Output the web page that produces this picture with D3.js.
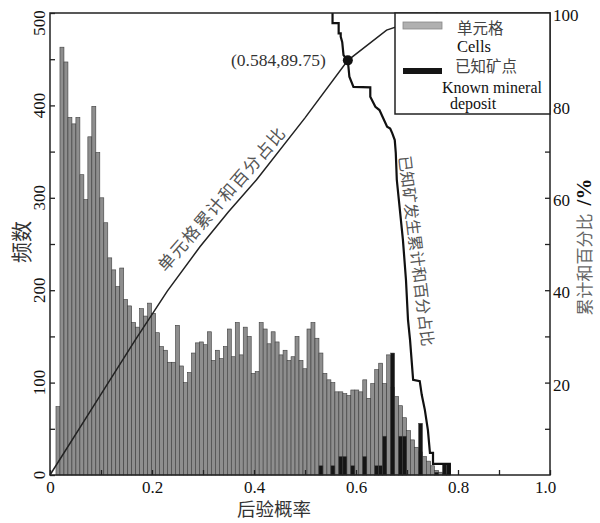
<!DOCTYPE html>
<html>
<head>
<meta charset="utf-8">
<script src="https://cdn.jsdelivr.net/npm/d3@7"></script>
<style>
  body { margin: 0; background: #fff; }
  svg { display: block; }
  .serif { font-family: "Liberation Serif", "Times New Roman", Times, "DejaVu Serif", serif; }
  .cjk { font-family: "Noto Sans CJK SC", "Noto Sans CJK JP", sans-serif; }
</style>
</head>
<body>
<svg id="chart" width="600" height="523"></svg>
<script>
// Histogram bins: bin k is centred on k * binWidth
const binWidth = 1 / 128;

// Number of cells per posterior-probability bin (bins 0..100)
const cellCounts = [
  0, 0, 74, 463, 447, 387, 380, 387, 325, 298,
  366, 399, 349, 300, 273, 235, 222, 204, 224, 190,
  183, 165, 160, 180, 172, 186, 175, 154, 139, 135,
  122, 122, 162, 118, 100, 111, 132, 143, 144, 141,
  155, 124, 135, 126, 139, 158, 128, 165, 130, 160,
  150, 110, 112, 165, 158, 142, 155, 144, 130, 135,
  124, 128, 150, 124, 115, 158, 165, 148, 132, 110,
  103, 100, 90, 90, 88, 86, 92, 92, 90, 103,
  83, 99, 114, 121, 99, 130, 95, 85, 75, 62,
  48, 38, 30, 25, 20, 15, 10, 5, 3, 2,
  1
];

// Known mineral deposits: bin index and bar height
const depositBins   = [68, 71, 73, 74, 76, 79, 82, 83, 84, 86, 88, 89, 93, 97, 99, 100];
const depositCounts = [10, 10, 20, 20, 10, 20, 10, 10, 42, 132, 42, 42, 56, 3, 12, 12];

// Cumulative share of cells (%), by posterior probability
const cellCumulative = [
  [0, 0], [0.08, 14], [0.167, 29.2], [0.23, 39.8], [0.294, 49.4],
  [0.35, 57], [0.405, 63.9], [0.5, 77.3], [0.584, 89.75], [0.66, 96.3], [0.76, 100]
];

// Cumulative share of known deposits (%), stepping down with probability
const depositCumulative = [
  [0.554, 100], [0.554, 97.8], [0.566, 97.8], [0.566, 95.6], [0.570, 95.6],
  [0.570, 94.9], [0.573, 93.7], [0.5755, 90.9], [0.578, 90.5], [0.584, 89.75],
  [0.587, 86.2], [0.595, 84.0], [0.628, 83.9], [0.628, 81.9], [0.638, 79.7],
  [0.646, 79.0], [0.661, 75.4], [0.667, 75.0], [0.671, 74.0], [0.676, 72.5],
  [0.678, 69.7], [0.680, 63.9], [0.692, 50.9], [0.698, 42.2], [0.702, 33.5],
  [0.706, 29.2], [0.712, 20.6], [0.725, 20.3], [0.729, 17.3], [0.735, 14.1],
  [0.741, 9.7], [0.745, 4.8], [0.751, 4.8], [0.751, 2.4], [0.784, 2.4], [0.784, 0]
];

// Intersection of the two cumulative curves
const crossPoint = [0.584, 89.75];

// Axis ticks
const xTickValues = [0, 0.1, 0.2, 0.3, 0.4, 0.5, 0.6, 0.7, 0.8, 0.9, 1.0];
const xTickLabels = ["0", "", "0.2", "", "0.4", "", "0.6", "", "0.8", "", "1.0"];
const yLeftTicks  = [0, 50, 100, 150, 200, 250, 300, 350, 400, 450, 500];
const yLeftLabels = ["0", "", "100", "", "200", "", "300", "", "400", "", "500"];
const yRightTicks  = [10, 20, 30, 40, 50, 60, 70, 80, 90, 100];
const yRightLabels = ["", "20", "", "40", "", "60", "", "80", "", "100"];

// ---- layout ----
const L = 50, R = 550, T = 13, B = 475;
const ink = "#222";

const svg = d3.select("#chart");

const x = d3.scaleLinear().domain([0, 0.8, 0.9, 1.0]).range([L, 458, 499, R]);
const yL = d3.scaleLinear().domain([0, 500]).range([B, T]);
const yR = d3.scaleLinear().domain([0, 100]).range([B, T]);

// ---- cell histogram ----
const bins = cellCounts.map((c, k) => ({ x0: (k - 0.5) * binWidth, x1: (k + 0.5) * binWidth, v: c }))
  .filter(d => d.v > 0);

svg.append("g")
  .selectAll("rect")
  .data(bins)
  .join("rect")
  .attr("x", d => x(d.x0))
  .attr("width", d => x(d.x1) - x(d.x0))
  .attr("y", d => yL(d.v))
  .attr("height", d => yL(0) - yL(d.v))
  .attr("fill", "#8e8e8e")
  .attr("stroke", "#3c3c3c")
  .attr("stroke-width", 0.6);

// ---- known deposit bars ----
const deposits = depositBins.map((k, i) => ({ x0: (k - 0.5) * binWidth, x1: (k + 0.5) * binWidth, v: depositCounts[i] }));

svg.append("g")
  .selectAll("rect")
  .data(deposits)
  .join("rect")
  .attr("x", d => x(d.x0))
  .attr("width", d => x(d.x1) - x(d.x0))
  .attr("y", d => yL(d.v))
  .attr("height", d => yL(0) - yL(d.v))
  .attr("fill", "#151515")
  .attr("stroke", "#444")
  .attr("stroke-width", 0.5);

// ---- cumulative curves ----
const line = d3.line().x(d => x(d[0])).y(d => yR(d[1]));

svg.append("path")
  .datum(cellCumulative)
  .attr("d", line)
  .attr("fill", "none")
  .attr("stroke", ink)
  .attr("stroke-width", 1.5);

svg.append("path")
  .datum(depositCumulative)
  .attr("d", line)
  .attr("fill", "none")
  .attr("stroke", "#111")
  .attr("stroke-width", 2.2)
  .attr("stroke-linejoin", "miter");

svg.append("circle")
  .attr("cx", x(crossPoint[0]))
  .attr("cy", yR(crossPoint[1]))
  .attr("r", 5)
  .attr("fill", "#111");

svg.append("text")
  .attr("class", "serif")
  .attr("x", x(crossPoint[0]) - 22)
  .attr("y", yR(crossPoint[1]))
  .attr("dy", "0.35em")
  .attr("text-anchor", "end")
  .attr("font-size", 17.5)
  .attr("fill", "#333")
  .text(`(${crossPoint[0]},${crossPoint[1]})`);

// ---- frame ----
svg.append("rect")
  .attr("x", L).attr("y", T)
  .attr("width", R - L).attr("height", B - T)
  .attr("fill", "none")
  .attr("stroke", ink)
  .attr("stroke-width", 1.5);

// ---- axes ----
function styleAxis(g) {
  g.attr("font-family", null);
  g.select(".domain").remove();
  g.selectAll(".tick line").attr("stroke", ink).attr("stroke-width", 1.3);
  g.selectAll(".tick text").attr("class", "serif").attr("font-size", 17).attr("fill", "#111");
}

const gx = svg.append("g")
  .attr("transform", `translate(0,${B})`)
  .call(d3.axisBottom(x)
    .tickValues(xTickValues)
    .tickSizeInner(-5).tickSizeOuter(0).tickPadding(6)
    .tickFormat((d, i) => xTickLabels[i]))
  .call(styleAxis);
gx.selectAll(".tick text").filter((d, i) => i === xTickValues.length - 1).attr("dx", -5);

svg.append("g")
  .attr("transform", `translate(${L},0)`)
  .call(d3.axisLeft(yL)
    .tickValues(yLeftTicks)
    .tickSizeInner(-5).tickSizeOuter(0)
    .tickFormat(""))
  .call(styleAxis);

// left labels are set vertically
svg.append("g")
  .selectAll("text")
  .data(yLeftTicks.map((v, i) => ({ v, label: yLeftLabels[i] })).filter(d => d.label))
  .join("text")
  .attr("class", "serif")
  .attr("transform", d => {
    let cy = yL(d.v);
    if (d.v === 500) cy += 10;
    return `translate(39,${cy}) rotate(-90)`;
  })
  .attr("text-anchor", "middle")
  .attr("dy", "0.35em")
  .attr("font-size", 17)
  .attr("fill", "#111")
  .text(d => d.label);

const gyr = svg.append("g")
  .attr("transform", `translate(${R},0)`)
  .call(d3.axisRight(yR)
    .tickValues(yRightTicks)
    .tickSizeInner(-5).tickSizeOuter(0).tickPadding(3)
    .tickFormat((d, i) => yRightLabels[i]))
  .call(styleAxis);
gyr.selectAll(".tick text").attr("dy", "0.45em");

// ---- axis titles ----
svg.append("text")
  .attr("class", "cjk")
  .attr("transform", "translate(22,242) rotate(-90)")
  .attr("text-anchor", "middle")
  .attr("dy", "0.35em")
  .attr("font-size", 21)
  .attr("fill", "#333")
  .text("频数");

svg.append("text")
  .attr("class", "cjk")
  .attr("x", 274).attr("y", 510)
  .attr("text-anchor", "middle")
  .attr("dy", "0.35em")
  .attr("font-size", 18.5)
  .attr("fill", "#333")
  .text("后验概率");

const rightTitle = svg.append("text")
  .attr("transform", "translate(585,247) rotate(-90)")
  .attr("text-anchor", "middle")
  .attr("dy", "0.35em");
rightTitle.append("tspan")
  .attr("class", "cjk").attr("font-size", 17).attr("fill", "#666")
  .text("累计和百分比");
rightTitle.append("tspan")
  .attr("class", "serif").attr("dx", 8).attr("font-size", 21).attr("font-weight", "bold").attr("fill", "#111")
  .text("/%");

// ---- curve annotations ----
svg.append("text")
  .attr("class", "cjk")
  .attr("transform", "translate(222,199) rotate(-49)")
  .attr("text-anchor", "middle")
  .attr("dy", "0.35em")
  .attr("font-size", 17)
  .attr("letter-spacing", 1.5)
  .attr("fill", "#555")
  .text("单元格累计和百分占比");

svg.append("text")
  .attr("class", "cjk")
  .attr("transform", "translate(416,251) rotate(83)")
  .attr("text-anchor", "middle")
  .attr("dy", "0.35em")
  .attr("font-size", 16)
  .attr("fill", "#555")
  .text("已知矿发生累计和百分占比");

// ---- legend ----
const lg = svg.append("g");
lg.append("rect")
  .attr("x", 395).attr("y", T)
  .attr("width", R - 395).attr("height", 101)
  .attr("fill", "#fff")
  .attr("stroke", ink)
  .attr("stroke-width", 1.5);
lg.append("rect")
  .attr("x", 403).attr("y", 22).attr("width", 39).attr("height", 7)
  .attr("fill", "#b0b0b0").attr("stroke", "#888").attr("stroke-width", 0.8);
lg.append("text")
  .attr("class", "cjk")
  .attr("x", 457).attr("y", 34)
  .attr("font-size", 15.5).attr("fill", "#444")
  .text("单元格");
lg.append("text")
  .attr("class", "serif")
  .attr("x", 457).attr("y", 51.5)
  .attr("font-size", 16.5).attr("fill", "#111")
  .text("Cells");
lg.append("rect")
  .attr("x", 403).attr("y", 68).attr("width", 39).attr("height", 6)
  .attr("fill", "#151515");
lg.append("text")
  .attr("class", "cjk")
  .attr("x", 455).attr("y", 72)
  .attr("font-size", 15.5).attr("fill", "#444")
  .text("已知矿点");
lg.append("text")
  .attr("class", "serif")
  .attr("x", 442).attr("y", 92.5)
  .attr("font-size", 16).attr("fill", "#111")
  .text("Known mineral");
lg.append("text")
  .attr("class", "serif")
  .attr("x", 450).attr("y", 108.5)
  .attr("font-size", 16).attr("fill", "#111")
  .text("deposit");
</script>
</body>
</html>
